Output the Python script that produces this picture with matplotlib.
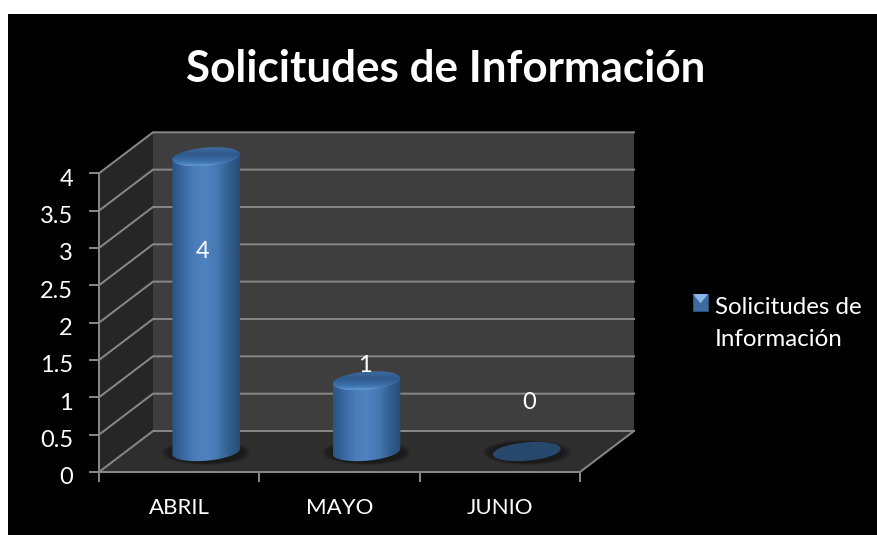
import numpy as np
import matplotlib
matplotlib.use("Agg")
import matplotlib.pyplot as plt
from matplotlib.patches import Polygon, Ellipse, Rectangle
from matplotlib.legend_handler import HandlerBase
from matplotlib.colors import LinearSegmentedColormap

categories = ["ABRIL", "MAYO", "JUNIO"]
values = [4, 1, 0]
y_ticks = [0, 0.5, 1, 1.5, 2, 2.5, 3, 3.5, 4]
y_tick_labels = ["0", "0.5", "1", "1.5", "2", "2.5", "3", "3.5", "4"]
series_name = "Solicitudes de\nInformación"
title_text = "Solicitudes de Información"

W, H = 877, 535
plt.rcParams["font.family"] = ["Lato", "DejaVu Sans"]
fig = plt.figure(figsize=(W / 100, H / 100), dpi=100, facecolor="white")
ax = fig.add_axes([0, 0, 1, 1])

# front plane: x=0 at px 99, x=3 at px 580; y=0 at px 472, y=4 at px 173.3
px_per_x = (580 - 99) / 3
px_per_y = (472 - 173.3) / 4
XLIM = (-99 / px_per_x, (W - 99) / px_per_x)
YLIM = (-(H - 472) / px_per_y, 472 / px_per_y)
ax.set_xlim(*XLIM)
ax.set_ylim(*YLIM)
ax.axis("off")

DX = 54 / px_per_x   # depth offset in axis units
DY = 41 / px_per_y


def P(x, y, d=0.0):
    return (x + d * DX, y + d * DY)


def px(x_px, y_px):
    return ax.transData.inverted().transform((x_px, H - y_px))


# black panel
p0, p1 = px(8, 535), px(877, 14)
ax.add_patch(Rectangle(p0, p1[0] - p0[0], p1[1] - p0[1], fc="black", ec="none", zorder=0))

# walls and floor
ax.add_patch(Polygon([P(0, 0, 1), P(3, 0, 1), P(3, 4, 1), P(0, 4, 1)], fc="#3e3e3e", ec="none", zorder=1))
ax.add_patch(Polygon([P(0, 0), P(0, 0, 1), P(0, 4, 1), P(0, 4)], fc="#262626", ec="none", zorder=1))
ax.add_patch(Polygon([P(0, 0), P(3, 0), P(3, 0, 1), P(0, 0, 1)], fc="#2e2e2e", ec="none", zorder=1))

GRID = "#868686"
LW = 1.45
for t in y_ticks:
    ax.plot(*zip(P(0, t), P(0, t, 1), P(3, t, 1)), color=GRID, lw=LW, zorder=2, solid_joinstyle="miter")
    tick = [P(0, t), (P(0, t)[0] - 9 / px_per_x, t)]
    ax.plot(*zip(*tick), color=GRID, lw=LW, zorder=2)
ax.plot(*zip(P(0, 0), P(0, 4)), color=GRID, lw=LW, zorder=3)
ax.plot(*zip(P(0, 0), P(3, 0), P(3, 0, 1)), color=GRID, lw=LW, zorder=3)
for i in range(4):
    ax.plot([i, i], [0, -9 / px_per_y], color=GRID, lw=LW, zorder=3)

for t, lab in zip(y_ticks, y_tick_labels):
    ax.text(-26 / px_per_x, t - 6 / px_per_y, lab, color="white", fontsize=17, ha="right", va="center", zorder=5)

for i, c in enumerate(categories):
    ax.text(i + 0.5, -36 / px_per_y, c, color="white", fontsize=16,
            ha="center", va="center", zorder=5)

# cylinders
CW = 68 / px_per_x
TILT = 5
TOP_DROP = 4 / px_per_y
cyl_cmap = LinearSegmentedColormap.from_list("cyl", ["#2b5384", "#3a6aa4", "#4b7db9", "#4f82c0", "#4678b2", "#33608f", "#274c78"])
top_cmap = LinearSegmentedColormap.from_list("top", ["#44719f", "#38659a", "#2f5a8c", "#34639a", "#3f74ae", "#6098d8"])


def ell_pts(cx, cy, n=80):
    t = np.linspace(0, 2 * np.pi, n)
    a, b = 34.0, 9.2
    ang = np.deg2rad(TILT)
    xp = a * np.cos(t)
    yp = b * np.sin(t)
    xr = xp * np.cos(ang) - yp * np.sin(ang)
    yr = xp * np.sin(ang) + yp * np.cos(ang)
    return cx + xr / px_per_x, cy + yr / px_per_y


for i, v in enumerate(values):
    cx, cy0 = P(i + 0.5, 0, 0.5)
    for scale in np.linspace(1.30, 1.04, 8):
        ax.add_patch(Ellipse((cx, cy0 - 1 / px_per_y), 2 * 34 * scale / px_per_x, 2 * 9.5 * scale / px_per_y,
                             angle=0, fc="#161616", ec="none", alpha=0.16, zorder=3))
    if v > 0:
        top = cy0 + v - TOP_DROP
        xb, yb = ell_pts(cx, cy0)
        xt, yt = ell_pts(cx, top)
        mid = cy0 + (xb - cx) * np.tan(np.deg2rad(TILT)) * px_per_x / px_per_y
        mask_b = yb <= mid + 1e-9
        lower = sorted(zip(xb[mask_b], yb[mask_b]))
        verts = lower + [(lower[-1][0], top), (lower[0][0], top)]
        body = Polygon(verts, closed=True, fc="none", ec="none", zorder=4)
        ax.add_patch(body)
        grad = np.linspace(0, 1, 256)[None, :]
        im = ax.imshow(grad, cmap=cyl_cmap, extent=(lower[0][0], lower[-1][0], cy0 - 0.2, top), aspect="auto", zorder=4,
                       interpolation="bilinear")
        im.set_clip_path(body)
        cap = Polygon(np.c_[xt, yt], closed=True, fc="none", ec="none", zorder=4.5)
        ax.add_patch(cap)
        grad2 = np.linspace(0, 1, 128)[:, None]
        im2 = ax.imshow(grad2, cmap=top_cmap, extent=(xt.min(), xt.max(), yt.min(), yt.max()), aspect="auto",
                        zorder=4.5, interpolation="bilinear", origin="upper")
        im2.set_clip_path(cap)
    else:
        xb, yb = ell_pts(cx, cy0)
        ax.add_patch(Polygon(np.c_[xb, yb], closed=True, fc="#27486d", ec="none", zorder=4))

# data labels
ax.text(P(0.5, 0, 0.5)[0] - 4 / px_per_x, 2.95, str(values[0]), color="white", fontsize=17, ha="center", va="center", zorder=6)
ax.text(P(1.5, 0, 0.5)[0] - 2 / px_per_x, 1.43, str(values[1]), color="white", fontsize=17, ha="center", va="center", zorder=6)
ax.text(P(2.5, 0, 0.5)[0] + 2 / px_per_x, 0.93, str(values[2]), color="white", fontsize=17, ha="center", va="center", zorder=6)

ax.set_xlim(*XLIM)
ax.set_ylim(*YLIM)

fig.text(446 / W, 1 - 69 / H, title_text, color="white", fontsize=31.7, fontweight="bold", ha="center", va="center", zorder=10)


class PyramidHandler(HandlerBase):
    def create_artists(self, legend, orig, xd, yd, width, height, fontsize, trans):
        x0, y0 = -xd, -yd + 15
        w, h = width, height
        r = Rectangle((x0, y0), w, h, fc="#3d6a9f", ec="#335b8a", lw=.5, transform=trans)
        tri = Polygon([(x0, y0 + h), (x0 + w, y0 + h), (x0 + w / 2, y0 + h * .45)], fc="#8ab8e8", ec="none", transform=trans)
        return [r, tri]


handle = Rectangle((0, 0), 1, 1)
leg = ax.legend([handle], [series_name], handler_map={Rectangle: PyramidHandler()},
                loc="upper left", bbox_to_anchor=(693 / W, 1 - 297 / H), bbox_transform=fig.transFigure,
                frameon=False, fontsize=17.4, labelcolor="white", handlelength=0.62, handleheight=0.7,
                handletextpad=0.3, borderpad=0, borderaxespad=0, labelspacing=0)
leg.get_texts()[0].set_linespacing(1.62)
leg.set_zorder(10)

fig.savefig("out.png", dpi=100, facecolor="white")
